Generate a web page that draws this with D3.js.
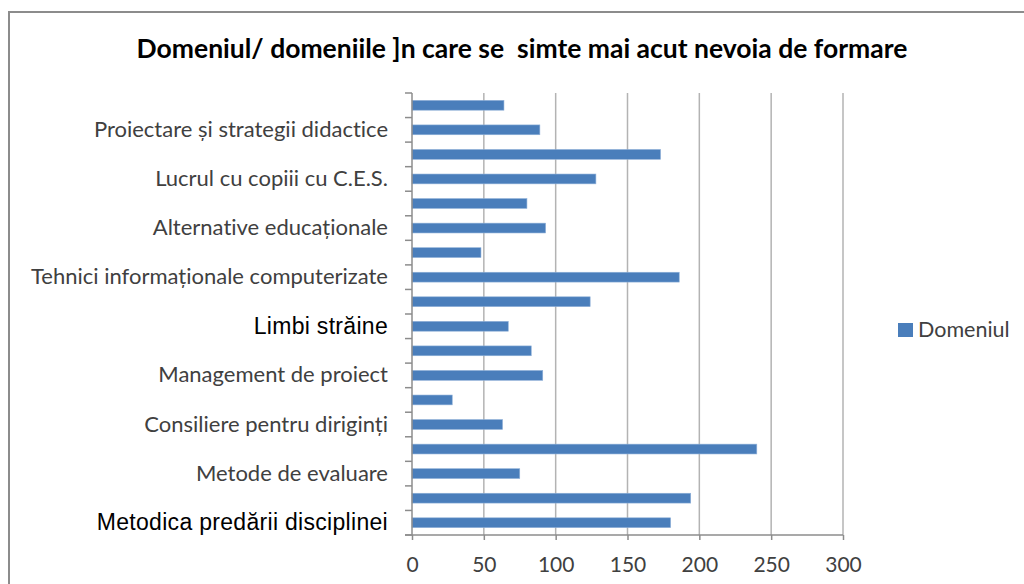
<!DOCTYPE html>
<html><head><meta charset="utf-8">
<script src="https://cdn.jsdelivr.net/npm/d3@7"></script>
<style>body{margin:0;background:#fff}svg{display:block}text{font-variant-ligatures:none}</style>
</head><body>
<svg id="c" width="1024" height="584"></svg>
<script>
const categories = ["", "Proiectare și strategii didactice", "", "Lucrul cu copiii cu C.E.S.", "", "Alternative educaționale", "", "Tehnici informaționale computerizate", "", "Limbi străine", "", "Management de proiect", "", "Consiliere pentru diriginți", "", "Metode de evaluare", "", "Metodica predării disciplinei"];
const values = [64, 89, 173, 128, 80, 93, 48, 186, 124, 67, 83, 91, 28, 63, 240, 75, 194, 180];
const xTicks = [0, 50, 100, 150, 200, 250, 300];
const seriesName = "Domeniul";
const title = "Domeniul/ domeniile ]n care se  simte mai acut nevoia de formare";
const darkLabels = ["Limbi străine", "Metodica predării disciplinei"];

const svg = d3.select("#c");
const pL = 412, pR = 843, pT = 93, pB = 535;
const x = d3.scaleLinear().domain([0, 300]).range([pL, pR]);
const y = d3.scaleBand().domain(d3.range(categories.length)).range([pT, pB]).paddingInner(0.6).paddingOuter(0.3);

// frame
svg.append("rect").attr("x", 9).attr("y", 12).attr("width", 1030).attr("height", 600)
  .attr("fill", "none").attr("stroke", "#8c8c8c").attr("stroke-width", 2);

// title
svg.append("text").attr("x", 522).attr("y", 57.5).attr("text-anchor", "middle")
  .style("white-space", "pre").attr("font-family", "Lato").attr("font-weight", "bold")
  .attr("font-size", 26.5).attr("fill", "#000").text(title);

// gridlines
svg.append("g").selectAll("line").data(xTicks.slice(1)).join("line")
  .attr("x1", d => x(d)).attr("x2", d => x(d)).attr("y1", pT).attr("y2", pB)
  .attr("stroke", "#b3b3b3").attr("stroke-width", 1.5);

// bars
svg.append("g").selectAll("rect").data(values).join("rect")
  .attr("x", x(0)).attr("y", (d, i) => y(i)).attr("width", d => x(d) - x(0)).attr("height", y.bandwidth())
  .attr("fill", "#4a7ebb").attr("stroke", "#8fb0d8").attr("stroke-width", 0.6);

// x axis
const xa = svg.append("g").attr("transform", `translate(0,${pB})`)
  .call(d3.axisBottom(x).tickValues(xTicks).tickSize(5).tickPadding(17));
xa.select(".domain").attr("stroke", "#8c8c8c").attr("stroke-width", 1.5).attr("d", `M${pL - 7},0H${pR}`);
xa.selectAll(".tick line").attr("stroke", "#8c8c8c").attr("stroke-width", 1.5);
xa.selectAll("text").attr("font-family", "Lato").attr("font-size", 21).attr("fill", "#404040");

// y axis
const ya = svg.append("g").attr("transform", `translate(${pL},0)`)
  .call(d3.axisLeft(y).tickSize(0).tickPadding(24).tickFormat(i => categories[i]));
ya.select(".domain").attr("stroke", "#8c8c8c").attr("stroke-width", 1.5).attr("d", `M0,${pT}V${pB}`);
ya.selectAll("text").each(function(i) {
  const t = d3.select(this);
  if (darkLabels.includes(categories[i])) {
    t.attr("font-family", "Liberation Sans").attr("font-size", 23).attr("letter-spacing", 0.3).attr("fill", "#000");
  } else {
    t.attr("font-family", "Lato").attr("font-size", 22).attr("fill", "#404040");
  }
});
// category boundary ticks
svg.append("g").selectAll("line").data(d3.range(categories.length + 1)).join("line")
  .attr("x1", pL - 7).attr("x2", pL)
  .attr("y1", i => pT + i * y.step()).attr("y2", i => pT + i * y.step())
  .attr("stroke", "#8c8c8c").attr("stroke-width", 1.5);

// legend
const lg = svg.append("g").attr("transform", "translate(898,323)");
lg.append("rect").attr("width", 15).attr("height", 14).attr("fill", "#4a7ebb");
lg.append("text").attr("x", 20).attr("y", 14).attr("font-family", "Lato").attr("font-size", 21.5)
  .attr("fill", "#404040").text(seriesName);
</script>
</body></html>
